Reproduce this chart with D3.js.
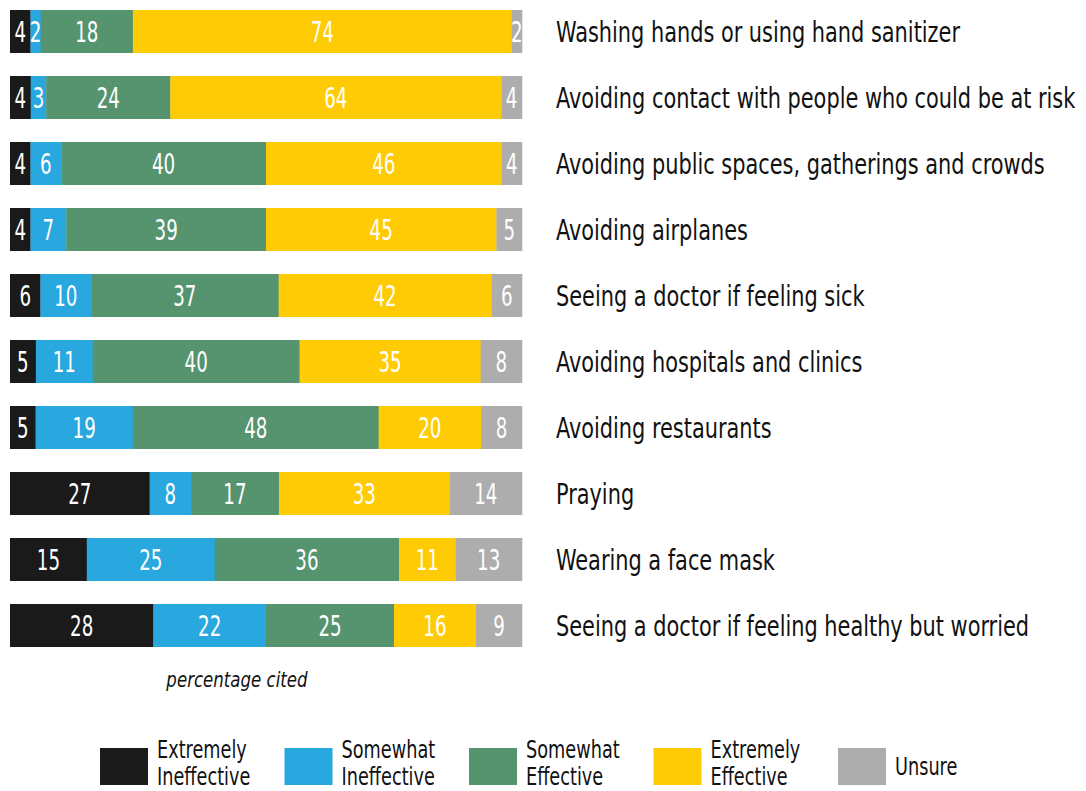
<!DOCTYPE html>
<html lang="en">
<head>
    <meta charset="UTF-8">
    <title>Effectiveness</title>
    <script src="https://cdn.jsdelivr.net/npm/d3@7"></script>
    <style>
        body { margin: 0; background: #fff; }
        text { font-family: "DejaVu Sans Condensed", "DejaVu Sans", sans-serif; }
    </style>
</head>
<body>
    <svg id="mainsvg" width="1086" height="791"></svg>
    <script>
        // data
        const actions = [
            "Washing hands or using hand sanitizer",
            "Avoiding contact with people who could be at risk",
            "Avoiding public spaces, gatherings and crowds",
            "Avoiding airplanes",
            "Seeing a doctor if feeling sick",
            "Avoiding hospitals and clinics",
            "Avoiding restaurants",
            "Praying",
            "Wearing a face mask",
            "Seeing a doctor if feeling healthy but worried"
        ];
        const extremelyIneffective = [4, 4, 4, 4, 6, 5, 5, 27, 15, 28];
        const somewhatIneffective = [2, 3, 6, 7, 10, 11, 19, 8, 25, 22];
        const somewhatEffective = [18, 24, 40, 39, 37, 40, 48, 17, 36, 25];
        const extremelyEffective = [74, 64, 46, 45, 42, 35, 20, 33, 11, 16];
        const unsure = [2, 4, 4, 5, 6, 8, 8, 14, 13, 9];
        const seriesNames = [["Extremely", "Ineffective"], ["Somewhat", "Ineffective"], ["Somewhat", "Effective"], ["Extremely", "Effective"], ["Unsure"]];
        const colors = ["#1a1a1a", "#29a7df", "#56946f", "#ffcb05", "#adadad"];

        const series = [extremelyIneffective, somewhatIneffective, somewhatEffective, extremelyEffective, unsure];

        // no condensed DIN-like font here, so squeeze text horizontally
        function squeeze(sel, k) {
            sel.each(function() {
                const x = +this.getAttribute("x") || 0;
                this.setAttribute("transform", `translate(${x},0) scale(${k},1) translate(${-x},0)`);
            });
        }

        const svg = d3.select("svg");
        const margin = {top: 10, left: 10};
        const barWidth = 512;
        const g = svg.append("g").attr("transform", `translate(${margin.left}, ${margin.top})`);

        const y = d3.scaleBand()
            .domain(actions)
            .range([0, 9 * 66 + 43])
            .paddingInner(23 / 66)
            .paddingOuter(0);

        // each row is normalised so all bars have the same length
        const rows = actions.map((name, i) => {
            const vals = series.map(s => s[i]);
            const total = d3.sum(vals);
            const x = d3.scaleLinear().domain([0, total]).range([0, barWidth]);
            let acc = 0;
            const segs = vals.map((v, k) => {
                const s = {k, v, x0: x(acc), x1: x(acc + v)};
                acc += v;
                return s;
            });
            return {name, i, segs};
        });

        const defs = svg.append("defs");
        const rowG = g.selectAll(".row")
            .data(rows)
            .join("g")
            .attr("class", "row")
            .attr("transform", d => `translate(0, ${y(d.name)})`);

        rowG.each(function(r) {
            const rg = d3.select(this);
            r.segs.forEach(s => {
                const id = `clip-${r.i}-${s.k}`;
                defs.append("clipPath").attr("id", id)
                    .append("rect")
                    .attr("x", s.x0 + margin.left)
                    .attr("y", y(r.name) + margin.top)
                    .attr("width", s.x1 - s.x0)
                    .attr("height", y.bandwidth());
                rg.append("rect")
                    .attr("x", s.x0)
                    .attr("y", 0)
                    .attr("width", s.x1 - s.x0 + 0.3)
                    .attr("height", y.bandwidth())
                    .attr("fill", colors[s.k]);
                const lbl = svg.append("g").attr("clip-path", `url(#${id})`)
                    .append("text")
                    .attr("x", margin.left + (s.x0 + s.x1) / 2)
                    .attr("y", margin.top + y(r.name) + y.bandwidth() / 2)
                    .attr("dy", "0.37em")
                    .attr("text-anchor", "middle")
                    .attr("fill", "#fff")
                    .attr("font-size", 29)
                    .text(s.v);
                squeeze(lbl, 0.7);
            });
            const name = rg.append("text")
                .attr("x", 546)
                .attr("y", y.bandwidth() / 2)
                .attr("dy", "0.37em")
                .attr("fill", "#111")
                .attr("font-size", 29)
                .text(r.name);
            squeeze(name, 0.8);
        });

        const note = svg.append("text")
            .attr("x", 237)
            .attr("y", 687)
            .attr("text-anchor", "middle")
            .attr("font-size", 22)
            .attr("font-style", "italic")
            .attr("fill", "#111")
            .text("percentage cited");
        squeeze(note, 0.84);

        // legend
        const legendX = d3.scalePoint().domain(d3.range(5)).range([100, 838]);
        const leg = svg.selectAll(".legend")
            .data(seriesNames)
            .join("g")
            .attr("class", "legend")
            .attr("transform", (d, i) => `translate(${legendX(i)}, 748)`);
        leg.append("rect")
            .attr("width", 48)
            .attr("height", 37)
            .attr("fill", (d, i) => colors[i]);
        const legText = leg.append("text")
            .attr("x", 57)
            .attr("font-size", 24)
            .attr("fill", "#111");
        legText.selectAll("tspan")
            .data(d => d.map((t, j) => ({t, j, n: d.length})))
            .join("tspan")
            .attr("x", 57)
            .attr("y", d => d.n === 1 ? 27 : 10 + d.j * 27)
            .text(d => d.t);
        squeeze(legText, 0.82);
    </script>
</body>
</html>
